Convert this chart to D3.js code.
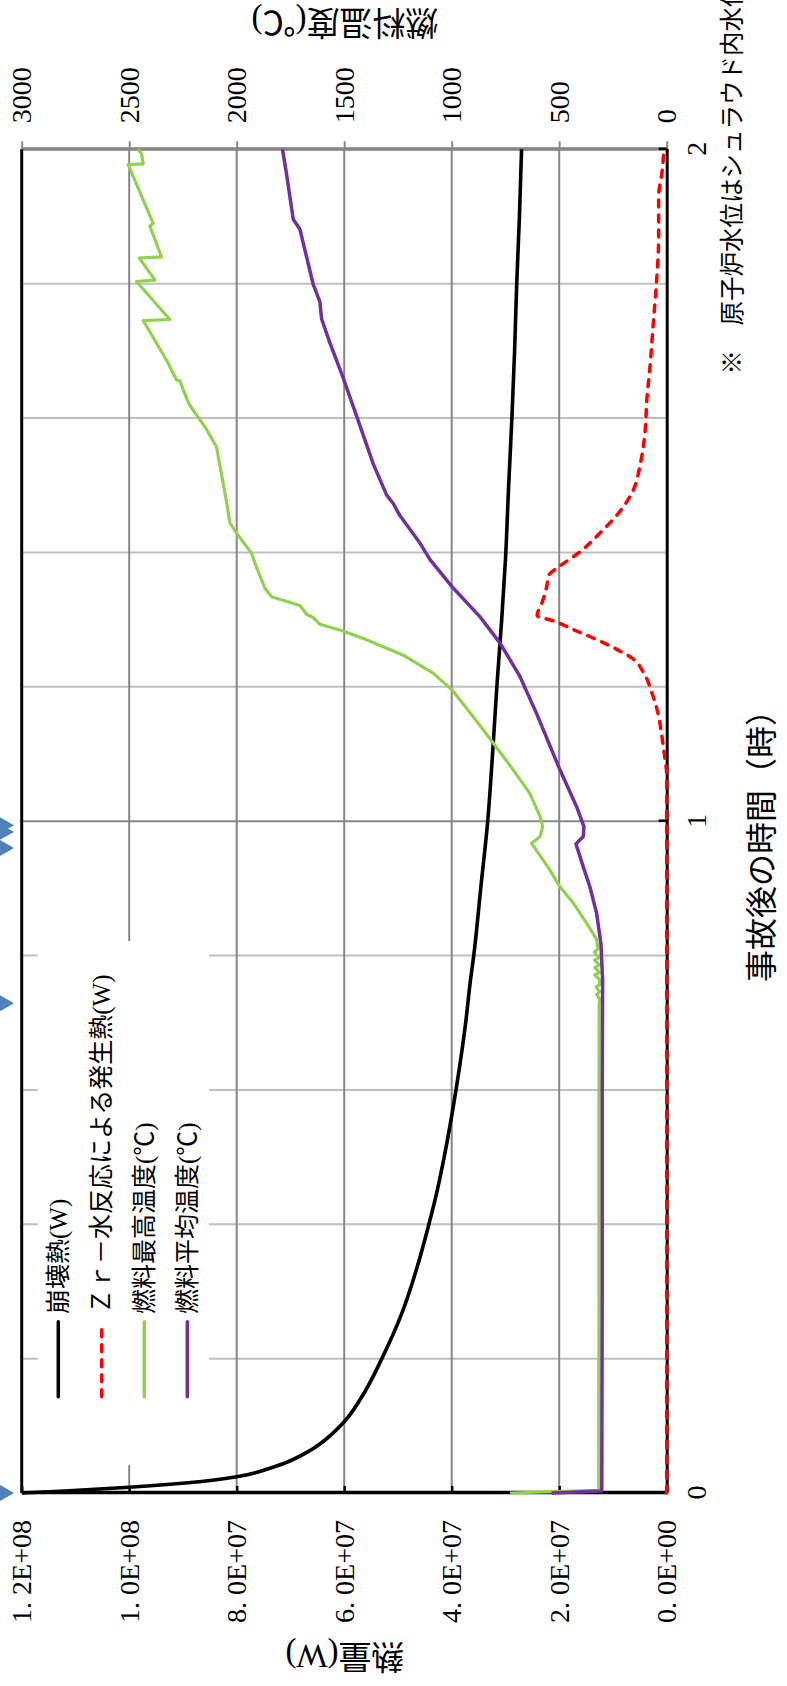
<!DOCTYPE html>
<html><head><meta charset="utf-8">
<script src="https://cdn.jsdelivr.net/npm/d3@7"></script>
<style>body{margin:0;background:#fff}svg{display:block}</style>
</head><body>
<svg id="c" width="787" height="1686"></svg>
<script>
// ---------------- data ----------------
const timeTicks = [0, 1, 2];
const timeGrid = [0.2, 0.4, 0.6, 0.8, 1.2, 1.4, 1.6, 1.8];
const timeMajorGrid = [1, 2];
const heatTicks = [0, 2e7, 4e7, 6e7, 8e7, 1e8, 1.2e8];
const tempTicks = [0, 500, 1000, 1500, 2000, 2500, 3000];
const seriesNames = ["崩壊熱(W)", "Ｚｒ－水反応による発生熱(W)", "燃料最高温度(℃)", "燃料平均温度(℃)"];
const seriesColors = ["#000000", "#ff0000", "#92d050", "#7030a0"];
const markerTimes = [0, 0.729, 0.960, 0.984, 0.994];

const decayTime = [0, 0.003, 0.0085, 0.016, 0.0243, 0.039, 0.064, 0.08, 0.106, 0.153, 0.2, 0.267, 0.337, 0.377, 0.45, 0.5, 0.6, 0.7, 0.764, 0.8, 0.9, 1.0, 1.1, 1.2, 1.3, 1.389, 1.5, 1.6, 1.7, 1.8, 1.9, 2.0];
const decayHeat = [1.2e8, 1.12e8, 1.0e8, 8.8e7, 8.0e7, 7.3e7, 6.62e7, 6.34e7, 6.0e7, 5.6e7, 5.3e7, 4.93e7, 4.64e7, 4.5e7, 4.27e7, 4.14e7, 3.92e7, 3.74e7, 3.65e7, 3.59e7, 3.46e7, 3.33e7, 3.24e7, 3.16e7, 3.07e7, 3.0e7, 2.94e7, 2.88e7, 2.83e7, 2.79e7, 2.74e7, 2.70e7];

const zrTime = [0, 1.07, 1.092, 1.127, 1.156, 1.191, 1.221, 1.243, 1.253, 1.268, 1.285, 1.298, 1.306, 1.325, 1.350, 1.365, 1.380, 1.401, 1.429, 1.461, 1.493, 1.528, 1.582, 1.627, 1.677, 1.741, 1.801, 1.870, 1.930, 1.964, 2.0];
const zrHeat = [0, 0, 3.2e5, 9e5, 1.5e6, 2.75e6, 4.3e6, 6.5e6, 8.65e6, 1.24e7, 1.73e7, 2.1e7, 2.41e7, 2.32e7, 2.23e7, 2.2e7, 1.98e7, 1.61e7, 1.24e7, 8.7e6, 6.2e6, 5.0e6, 4.0e6, 3.7e6, 3.1e6, 2.5e6, 1.9e6, 1.5e6, 1.5e6, 9e5, 5e5];

const maxTime = [0, 0.004, 0.3, 0.6, 0.728, 0.735, 0.742, 0.746, 0.753, 0.757, 0.764, 0.771, 0.775, 0.782, 0.786, 0.793, 0.797, 0.805, 0.81, 0.824, 0.848, 0.878, 0.902, 0.927, 0.967, 0.977, 0.992, 1.007, 1.041, 1.076, 1.116, 1.155, 1.195, 1.220, 1.247, 1.270, 1.283, 1.293, 1.303, 1.308, 1.321, 1.334, 1.347, 1.378, 1.3985, 1.429, 1.444, 1.475, 1.557, 1.583, 1.619, 1.627, 1.655, 1.657, 1.686, 1.7451, 1.7467, 1.8032, 1.8052, 1.8382, 1.8398, 1.886, 1.8895, 1.9774, 1.9784, 1.9939, 2.0];
const maxTemp = [729, 316, 315, 315, 314, 312, 326, 312, 328, 312, 312, 334, 312, 334, 313, 335, 315, 336, 320, 326, 372, 434, 496, 543, 628, 589, 577, 589, 636, 713, 806, 899, 997, 1085, 1225, 1396, 1505, 1613, 1644, 1675, 1706, 1838, 1869, 1908, 1931, 2001, 2032, 2047, 2094, 2140, 2218, 2230, 2264, 2280, 2326, 2435, 2311, 2466, 2380, 2453, 2350, 2404, 2388, 2505, 2435, 2443, 2461];

const avgTime = [0, 0.003, 0.3, 0.6, 0.764, 0.818, 0.863, 0.902, 0.932, 0.966, 0.977, 0.992, 1.0215, 1.076, 1.160, 1.215, 1.265, 1.304, 1.3466, 1.389, 1.4135, 1.4548, 1.4728, 1.4856, 1.5317, 1.6037, 1.660, 1.7115, 1.7474, 1.773, 1.7988, 1.881, 1.896, 1.963, 2.0];
const avgTemp = [535, 302, 300, 300, 298, 306, 326, 357, 388, 422, 388, 385, 419, 496, 605, 682, 775, 868, 992, 1100, 1147, 1241, 1272, 1303, 1365, 1443, 1505, 1566, 1605, 1613, 1644, 1706, 1737, 1768, 1787];

const heatTitle = "熱量(W)";
const tempTitle = "燃料温度(℃)";
const timeTitle = "事故後の時間（時）";
const noteText = "※　原子炉水位はシュラウド内水位";

// ---------------- drawing ----------------
const W = 787, H = 1686;
const svg = d3.select("#c");
// chart drawn in its original landscape orientation, then turned 90° counter-clockwise
const g = svg.append("g").attr("transform", `translate(0,${H}) rotate(-90)`);

const x0 = 193, x1 = 1536.7, yTop = 21.7, yBot = 666.7;
const x = d3.scaleLinear().domain([0, 2]).range([x0, x1]);
const yHeat = d3.scaleLinear().domain([0, 1.2e8]).range([yBot, yTop]);
const yTemp = d3.scaleLinear().domain([0, 3000]).range([yBot, yTop]);

const SERIF = "'Liberation Serif','Noto Sans CJK JP',serif";
const CJK = "'Liberation Serif','Noto Sans CJK JP',sans-serif";

// gridlines
g.append("g").selectAll("line").data(timeGrid).join("line")
  .attr("x1", d => x(d)).attr("x2", d => x(d)).attr("y1", yTop).attr("y2", yBot)
  .attr("stroke", "#bfbfbf").attr("stroke-width", 2);
g.append("g").selectAll("line").data(timeMajorGrid).join("line")
  .attr("x1", d => x(d)).attr("x2", d => x(d)).attr("y1", yTop).attr("y2", yBot)
  .attr("stroke", "#868686").attr("stroke-width", d => d === 2 ? 3 : 2);
g.append("g").selectAll("line").data(heatTicks.filter(d => d > 0 && d < 1.2e8)).join("line")
  .attr("x1", x0).attr("x2", x1).attr("y1", d => yHeat(d)).attr("y2", d => yHeat(d))
  .attr("stroke", "#868686").attr("stroke-width", 2);

// legend background
const legX0 = 221, legX1 = 745, legY0 = 37.7, legY1 = 209;
g.append("rect").attr("x", legX0).attr("y", legY0).attr("width", legX1 - legX0).attr("height", legY1 - legY0).attr("fill", "#fff");

// axes
function sci(v) {
  if (v === 0) return "0. 0E+00";
  const e = Math.floor(Math.log10(v) + 1e-9);
  const m = v / Math.pow(10, e);
  return m.toFixed(1).replace(".", ". ") + "E+" + String(e).padStart(2, "0");
}
const axHeat = g.append("g").attr("transform", `translate(${x0},0)`)
  .call(d3.axisLeft(yHeat).tickValues(heatTicks).tickFormat(sci).tickSizeInner(-7).tickSizeOuter(0).tickPadding(27));
axHeat.select(".domain").attr("stroke", "#000").attr("stroke-width", 3.5);
axHeat.selectAll(".tick line").attr("stroke", "#000").attr("stroke-width", 2.5);
axHeat.selectAll("text").attr("font-family", SERIF).attr("font-size", 28).attr("fill", "#000");

const axTemp = g.append("g").attr("transform", `translate(${x1},0)`)
  .call(d3.axisRight(yTemp).tickValues(tempTicks).tickFormat(d3.format("d")).tickSizeInner(8).tickSizeOuter(0).tickPadding(18));
axTemp.select(".domain").attr("stroke", "#868686").attr("stroke-width", 3);
axTemp.selectAll(".tick line").attr("stroke", "#868686").attr("stroke-width", 2);
axTemp.selectAll("text").attr("font-family", SERIF).attr("font-size", 28).attr("fill", "#000");

// top frame line
g.append("line").attr("x1", x0).attr("x2", x1).attr("y1", yTop).attr("y2", yTop).attr("stroke", "#000").attr("stroke-width", 3);

const axTime = g.append("g").attr("transform", `translate(0,${yBot})`)
  .call(d3.axisBottom(x).tickValues(timeTicks).tickFormat(d3.format("d")).tickSizeInner(-8).tickSizeOuter(0).tickPadding(19));
axTime.select(".domain").attr("stroke", "#000").attr("stroke-width", 3);
axTime.selectAll(".tick line").attr("stroke", "#000").attr("stroke-width", 2.5);
axTime.selectAll("text").attr("font-family", SERIF).attr("font-size", 28).attr("fill", "#000");

// titles
g.append("text").attr("x", 704).attr("y", 762).attr("text-anchor", "start").attr("dominant-baseline", "central")
  .attr("font-family", CJK).attr("font-size", 32).text(timeTitle);
g.append("text").attr("transform", "translate(30,345) rotate(-90)").attr("text-anchor", "middle").attr("dominant-baseline", "central")
  .attr("font-family", CJK).attr("font-size", 33).text(heatTitle);
g.append("text").attr("transform", "translate(1664,345) rotate(-90)").attr("text-anchor", "middle").attr("dominant-baseline", "central")
  .attr("font-family", CJK).attr("font-size", 33).text(tempTitle);
g.append("text").attr("x", 1311.5).attr("y", 730).attr("dominant-baseline", "central")
  .attr("font-family", "'Noto Sans CJK JP',sans-serif").attr("font-size", 24.5).text(noteText);

// markers (event triangles above plot)
g.append("g").selectAll("path").data(markerTimes).join("path")
  .attr("d", d => `M${x(d) - 8.5},-1L${x(d) + 8.5},-1L${x(d)},14Z`)
  .attr("fill", "#4f81bd");

// series
const lineHeat = (ts, vs, c) => d3.line().curve(c).x((d, i) => x(ts[i])).y(d => yHeat(d))(vs);
const lineTemp = (ts, vs) => d3.line().x((d, i) => x(ts[i])).y(d => yTemp(d))(vs);
g.append("path").attr("d", lineHeat(decayTime, decayHeat, d3.curveMonotoneX)).attr("fill", "none")
  .attr("stroke", seriesColors[0]).attr("stroke-width", 3.6).attr("stroke-linejoin", "round");
g.append("path").attr("d", lineHeat(zrTime, zrHeat, d3.curveMonotoneX)).attr("fill", "none")
  .attr("stroke", seriesColors[1]).attr("stroke-width", 3.5).attr("stroke-dasharray", "7,8").attr("stroke-linecap", "round").attr("stroke-linejoin", "round");
g.append("path").attr("d", lineTemp(maxTime, maxTemp)).attr("fill", "none")
  .attr("stroke", seriesColors[2]).attr("stroke-width", 3.2).attr("stroke-linejoin", "round");
g.append("path").attr("d", lineTemp(avgTime, avgTemp)).attr("fill", "none")
  .attr("stroke", seriesColors[3]).attr("stroke-width", 3.5).attr("stroke-linejoin", "round");

// legend
const legRows = [58.3, 101.7, 144.3, 187.3];
const leg = g.append("g");
seriesNames.forEach((name, i) => {
  const l = leg.append("line").attr("x1", 289.3).attr("x2", 364.3).attr("y1", legRows[i]).attr("y2", legRows[i])
    .attr("stroke", seriesColors[i]).attr("stroke-width", 3.5).attr("stroke-linecap", "round");
  if (i === 1) l.attr("stroke-dasharray", "7,8");
  leg.append("text").attr("x", 372).attr("y", legRows[i]).attr("dominant-baseline", "central")
    .attr("font-family", CJK).attr("font-size", 25).text(name);
});
</script>
</body></html>
